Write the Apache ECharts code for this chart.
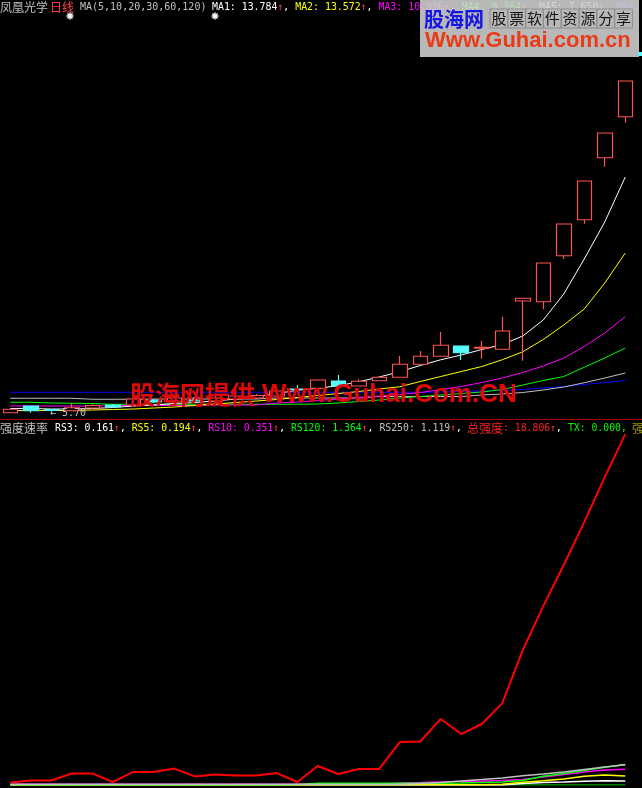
<!DOCTYPE html>
<html><head><meta charset="utf-8">
<script src="https://cdn.jsdelivr.net/npm/echarts@6/dist/echarts.min.js"></script>
<style>html,body{margin:0;padding:0;background:#000;overflow:hidden}#c{width:642px;height:788px;}</style>
</head><body><div id="c"></div>
<script>
// ---------- data ----------
const categories = ['1','2','3','4','5','6','7','8','9','10','11','12','13','14','15','16','17','18','19','20','21','22','23','24','25','26','27','28','29','30','31'];

const candleOpen  = [5.71,5.98,5.84,5.79,5.90,6.02,6.02,6.22,6.14,6.30,6.18,6.26,6.30,6.38,6.66,6.69,6.98,6.78,6.99,7.13,7.65,7.97,8.38,8.29,8.25,10.18,10.15,11.99,13.43,15.91,17.55];
const candleClose = [5.85,5.79,5.80,5.91,6.00,5.94,6.26,6.14,6.30,6.18,6.30,6.38,6.40,6.58,6.64,7.02,6.78,6.97,7.13,7.65,7.97,8.41,8.11,8.33,8.98,10.29,11.70,13.26,14.98,16.90,18.98];
const candleLow   = [5.71,5.71,5.70,5.79,5.86,5.90,5.98,6.10,6.10,6.14,6.14,6.22,6.26,6.34,6.55,6.69,6.71,6.78,6.99,7.13,7.65,7.97,7.82,7.87,8.25,7.79,9.85,11.86,13.27,15.55,17.31];
const candleHigh  = [5.85,5.98,5.85,6.10,6.06,6.06,6.30,6.26,6.38,6.34,6.38,6.46,6.46,6.66,6.82,7.02,7.22,7.05,7.18,7.98,8.18,8.94,8.38,8.58,9.55,10.29,11.70,13.26,14.98,16.90,18.98];

const ma5   = [5.88,5.88,5.86,5.86,5.88,5.92,5.98,6.02,6.08,6.12,6.18,6.26,6.36,6.48,6.61,6.69,6.79,6.95,7.14,7.35,7.60,7.83,8.02,8.24,8.44,8.78,9.42,10.46,11.86,13.34,15.14];
const ma10  = [5.80,5.80,5.80,5.80,5.82,5.84,5.86,5.90,5.94,6.00,6.06,6.12,6.18,6.24,6.32,6.40,6.48,6.56,6.66,6.75,6.96,7.16,7.36,7.56,7.83,8.15,8.64,9.22,9.86,10.90,12.10];
const ma20  = [5.98,5.98,5.98,5.98,5.98,6.00,6.00,6.00,6.00,6.00,6.02,6.02,6.02,6.10,6.14,6.20,6.26,6.32,6.38,6.44,6.52,6.64,6.76,6.92,7.10,7.32,7.58,7.90,8.36,8.90,9.55];
const ma30  = [6.13,6.13,6.10,6.09,6.08,6.05,6.05,6.05,6.05,6.05,6.05,6.05,6.05,6.05,6.05,6.06,6.10,6.16,6.22,6.30,6.36,6.42,6.48,6.54,6.64,6.82,7.00,7.16,7.53,7.90,8.30];
const ma60  = [6.29,6.29,6.29,6.29,6.25,6.25,6.25,6.26,6.26,6.26,6.26,6.26,6.26,6.30,6.30,6.30,6.30,6.30,6.36,6.36,6.36,6.36,6.36,6.42,6.46,6.52,6.62,6.74,6.91,7.10,7.30];
const ma120 = [6.53,6.53,6.53,6.53,6.53,6.53,6.53,6.53,6.53,6.53,6.53,6.53,6.53,6.53,6.53,6.53,6.53,6.53,6.53,6.53,6.53,6.54,6.56,6.58,6.60,6.64,6.70,6.76,6.84,6.92,7.00];

const totalStrength = [0.13,0.24,0.24,0.62,0.62,0.16,0.70,0.70,0.88,0.46,0.56,0.51,0.51,0.64,0.16,1.02,0.59,0.86,0.86,2.30,2.33,3.54,2.73,3.27,4.39,7.23,9.59,11.79,14.09,16.50,18.806];
const rs250 = [0.04,0.04,0.04,0.04,0.04,0.04,0.04,0.04,0.04,0.04,0.04,0.04,0.04,0.04,0.04,0.04,0.04,0.04,0.04,0.04,0.08,0.13,0.21,0.29,0.38,0.49,0.59,0.70,0.83,0.96,1.08];
const rs120 = [0.02,0.02,0.02,0.02,0.02,0.02,0.02,0.02,0.02,0.02,0.02,0.02,0.02,0.02,0.02,0.09,0.09,0.09,0.09,0.09,0.09,0.10,0.11,0.13,0.16,0.24,0.47,0.62,0.78,0.95,1.10];
const rs10  = [0.04,0.04,0.04,0.04,0.04,0.04,0.04,0.04,0.04,0.04,0.04,0.04,0.04,0.04,0.04,0.04,0.04,0.04,0.04,0.11,0.13,0.16,0.19,0.21,0.24,0.29,0.43,0.56,0.70,0.80,0.85];
const rs5   = [0.01,0.01,0.01,0.01,0.01,0.01,0.01,0.01,0.01,0.01,0.01,0.01,0.01,0.01,0.01,0.01,0.01,0.01,0.01,0.01,0.01,0.01,0.01,0.02,0.04,0.15,0.23,0.32,0.47,0.54,0.48];
const rs3   = [0,0,0,0,0,0,0,0,0,0,0,0,0,0,0,0,0,0,0,0,0,0,0,0,0,0.08,0.13,0.16,0.20,0.23,0.21];
const tx    = [0,0,0,0,0,0,0,0,0,0,0,0,0,0,0,0,0,0,0,0,0,0,0,0,0,0,0,0,0,0,0];

const headerMA = [
  ['MA1', '13.784', '#ffffff'],
  ['MA2', '13.572', '#ffff00'],
  ['MA3', '10.926', '#ff00ff'],
  ['MA4', '9.384',  '#00ff00'],
  ['MA5', '7.650',  '#c0c0c0'],
  ['MA6', '6.972',  '#4040ff']
];
const headerRS = [
  ['RS3', '0.161', '#ffffff'],
  ['RS5', '0.194', '#ffff00'],
  ['RS10', '0.351', '#ff00ff'],
  ['RS120', '1.364', '#00ff00'],
  ['RS250', '1.119', '#c0c0c0']
];
const lowLabel = '5.70';

// ---------- chart ----------
const chart = echarts.init(document.getElementById('c'), null, {renderer: 'canvas'});
const MONO = '"DejaVu Sans Mono", monospace';
const CJK = '"Noto Sans CJK SC", sans-serif';

const kData = categories.map((c, i) => [candleOpen[i], candleClose[i], candleLow[i], candleHigh[i]]);

function line(name, data, color, gi, width, z) {
  return {
    name, type: 'line', xAxisIndex: gi, yAxisIndex: gi, data,
    symbol: 'none', smooth: false, silent: true, z: z,
    lineStyle: {color, width}, itemStyle: {color}
  };
}

function richRun(items, size) {
  const f = size + 'px ' + MONO;
  let txt = '';
  const rich = {r: {fill: '#ff4040', font: f}, w: {fill: '#ffffff', font: f}};
  items.forEach((it, k) => {
    const key = 'c' + k;
    rich[key] = {fill: it[2], font: f};
    txt += '{' + key + '|' + it[0] + ': ' + it[1] + '}{r|↑}{w|, }';
  });
  return {txt, rich, f};
}
const topRun = richRun(headerMA, 9.9);
const botRun = richRun(headerRS, 9.8);

function star(cx, cy) {
  const r = 3.5, d = 2.5;
  return {
    type: 'group', z: 50, children: [
      {type: 'line', shape: {x1: cx - r, y1: cy, x2: cx + r, y2: cy}, style: {stroke: '#fff', lineWidth: 1.5}},
      {type: 'line', shape: {x1: cx, y1: cy - r, x2: cx, y2: cy + r}, style: {stroke: '#fff', lineWidth: 1.5}},
      {type: 'line', shape: {x1: cx - d, y1: cy - d, x2: cx + d, y2: cy + d}, style: {stroke: '#fff', lineWidth: 1.5}},
      {type: 'line', shape: {x1: cx - d, y1: cy + d, x2: cx + d, y2: cy - d}, style: {stroke: '#fff', lineWidth: 1.5}}
    ]
  };
}

const cellChars = '股票软件资源分享'.split('');
const cells = [];
cellChars.forEach((ch, i) => {
  const x = 490 + i * 17.8;
  cells.push({type: 'rect', z: 62, shape: {x: x, y: 9, width: 17.8, height: 19}, style: {fill: 'none', stroke: '#8c8c8c', lineWidth: 1}});
  cells.push({type: 'text', z: 63, x: x + 8.9, y: 18.5, style: {text: ch, fill: '#151515', font: '15px ' + CJK, align: 'center', verticalAlign: 'middle'}});
});

const option = {
  backgroundColor: '#000',
  animation: false,
  grid: [
    {left: 0, top: 16, width: 635.5, height: 402, containLabel: false},
    {left: 0, top: 432, width: 635.5, height: 353, containLabel: false}
  ],
  xAxis: [
    {type: 'category', data: categories, gridIndex: 0, show: false, boundaryGap: true},
    {type: 'category', data: categories, gridIndex: 1, show: false, boundaryGap: true}
  ],
  yAxis: [
    {type: 'value', gridIndex: 0, min: 5.5, max: 21.58, show: false, splitLine: {show: false}},
    {type: 'value', gridIndex: 1, min: 0, max: 18.92, show: false, splitLine: {show: false}}
  ],
  series: [
    line('MA120', ma120, '#0000ff', 0, 1, 2),
    line('MA60', ma60, '#c0c0c0', 0, 1, 2),
    line('MA30', ma30, '#00ff00', 0, 1, 2),
    line('MA20', ma20, '#ff00ff', 0, 1, 2),
    line('MA10', ma10, '#ffff00', 0, 1, 2),
    line('MA5', ma5, '#ffffff', 0, 1, 2),
    {
      type: 'candlestick', xAxisIndex: 0, yAxisIndex: 0, data: kData, barWidth: 15, z: 3, silent: true,
      itemStyle: {color: '#000000', color0: '#54fcfc', borderColor: '#ff5454', borderColor0: '#54fcfc', borderWidth: 1.2}
    },
    line('TX', tx, '#00ff00', 1, 1, 2),
    line('RS3', rs3, '#ffffff', 1, 1.5, 2),
    line('RS5', rs5, '#ffff00', 1, 1.5, 2),
    line('RS10', rs10, '#ff00ff', 1, 1.5, 2),
    line('RS120', rs120, '#00ff00', 1, 1.5, 2),
    line('RS250', rs250, '#c0c0c0', 1, 1.5, 2),
    line('总强度', totalStrength, '#ff0000', 1, 2, 3)
  ],
  graphic: [
    {type: 'text', z: 40, x: 0, y: 7, style: {text: '凤凰光学', fill: '#c0c0c0', font: '12px ' + CJK, verticalAlign: 'middle'}},
    {type: 'text', z: 40, x: 50, y: 7, style: {text: '日线', fill: '#ff4040', font: '12px ' + CJK, verticalAlign: 'middle'}},
    {type: 'text', z: 40, x: 80, y: 7, style: {text: 'MA(5,10,20,30,60,120)', fill: '#c0c0c0', font: '10px ' + MONO, verticalAlign: 'middle'}},
    {type: 'text', z: 40, x: 212, y: 7, style: {text: topRun.txt, rich: topRun.rich, font: topRun.f, verticalAlign: 'middle'}},
    star(70, 16), star(215, 16),
    {type: 'rect', z: 60, shape: {x: 420, y: 0, width: 219, height: 57}, style: {fill: 'rgba(214,214,214,0.86)'}},
    {type: 'text', z: 63, x: 424, y: 19, style: {text: '股海网', fill: '#1414e6', font: 'bold 20px ' + CJK, verticalAlign: 'middle'}},
    ...cells,
    {type: 'text', z: 63, x: 425, y: 41, style: {text: 'Www.Guhai.com.cn', fill: '#ea3a16', font: 'bold 22px "Liberation Sans", Arial, sans-serif', verticalAlign: 'middle'}},
    {type: 'rect', z: 63, shape: {x: 638, y: 52, width: 4, height: 4}, style: {fill: '#54fcfc'}},
    {type: 'text', z: 40, x: 50, y: 413, style: {text: '← ' + lowLabel, fill: '#c0c0c0', font: '10px ' + MONO, verticalAlign: 'middle'}},
    {type: 'text', z: 70, x: 130, y: 394, style: {text: '股海网提供', fill: '#e00808', font: 'bold 25px ' + CJK, verticalAlign: 'middle'}},
    {type: 'text', z: 70, x: 262, y: 395, style: {text: 'Www.Guhai.Com.CN', fill: '#e00808', font: 'bold 26px "Liberation Sans", Arial, sans-serif', verticalAlign: 'middle'}},
    {type: 'line', z: 40, shape: {x1: 0, y1: 419.5, x2: 642, y2: 419.5}, style: {stroke: '#b00000', lineWidth: 1}},
    {type: 'text', z: 40, x: 0, y: 428, style: {text: '强度速率', fill: '#c0c0c0', font: '12px ' + CJK, verticalAlign: 'middle'}},
    {type: 'text', z: 40, x: 55, y: 428, style: {text: botRun.txt, rich: botRun.rich, font: botRun.f, verticalAlign: 'middle'}},
    {type: 'text', z: 40, x: 467, y: 428, style: {text: '总强度', fill: '#ff2020', font: '12px ' + CJK, verticalAlign: 'middle'}},
    {type: 'text', z: 40, x: 503, y: 428, style: {
      text: '{a|: ' + totalStrength[totalStrength.length - 1].toFixed(3) + '}{b|↑}{c|, }{d|TX: 0.000, }',
      font: '9.8px ' + MONO, verticalAlign: 'middle',
      rich: {a: {fill: '#ff2020', font: '9.8px ' + MONO}, b: {fill: '#ff4040', font: '9.8px ' + MONO}, c: {fill: '#ffffff', font: '9.8px ' + MONO}, d: {fill: '#00ff00', font: '9.8px ' + MONO}}
    }},
    {type: 'text', z: 40, x: 632, y: 428, style: {text: '强', fill: '#a0a000', font: '12px ' + CJK, verticalAlign: 'middle'}}
  ]
};
chart.setOption(option);
</script>
</body></html>
